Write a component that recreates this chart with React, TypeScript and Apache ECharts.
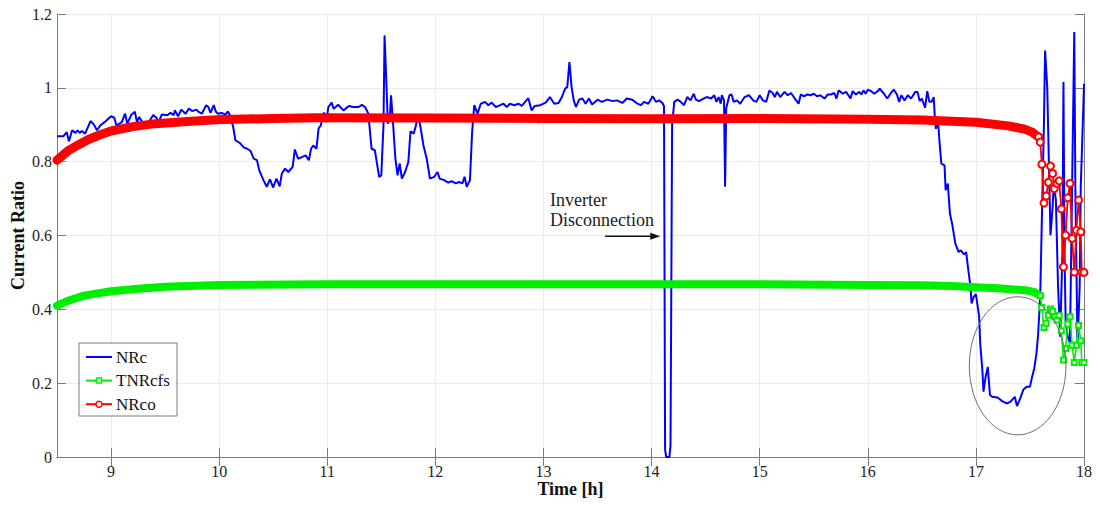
import React, { useEffect, useRef } from "react";
import * as echarts from "echarts";

// NRc: measured current ratio (time in hours, ratio)
const nrcTime = [
  8.5, 8.56, 8.59, 8.61, 8.64, 8.67, 8.69, 8.71, 8.73, 8.76, 8.81, 8.84, 8.87, 8.9, 8.94, 9.0, 9.03, 9.05, 9.1, 9.13,
  9.15, 9.19, 9.22, 9.24, 9.26, 9.29, 9.31, 9.36, 9.39, 9.42, 9.44, 9.47, 9.52, 9.55, 9.58, 9.59, 9.62, 9.65, 9.69, 9.72,
  9.75, 9.79, 9.81, 9.84, 9.88, 9.9, 9.92, 9.95, 9.97, 9.99, 10.02, 10.06, 10.08, 10.1, 10.13, 10.15, 10.19, 10.23, 10.26, 10.29,
  10.32, 10.35, 10.37, 10.41, 10.44, 10.47, 10.5, 10.53, 10.56, 10.58, 10.61, 10.64, 10.68, 10.7, 10.73, 10.77, 10.8, 10.83, 10.85, 10.87,
  10.9, 10.92, 10.94, 10.97, 10.99, 11.01, 11.04, 11.06, 11.1, 11.15, 11.2, 11.24, 11.29, 11.32, 11.35, 11.38, 11.41, 11.44, 11.45, 11.48,
  11.5, 11.52, 11.53, 11.55, 11.56, 11.58, 11.59, 11.61, 11.63, 11.65, 11.67, 11.69, 11.72, 11.75, 11.77, 11.8, 11.82, 11.84, 11.86, 11.89,
  11.92, 11.95, 11.99, 12.02, 12.04, 12.08, 12.12, 12.15, 12.19, 12.22, 12.25, 12.27, 12.29, 12.32, 12.34, 12.36, 12.39, 12.42, 12.46, 12.49,
  12.52, 12.56, 12.6, 12.63, 12.66, 12.69, 12.73, 12.77, 12.8, 12.83, 12.86, 12.89, 12.92, 12.97, 13.02, 13.06, 13.1, 13.14, 13.17, 13.2,
  13.22, 13.24, 13.26, 13.28, 13.3, 13.33, 13.36, 13.39, 13.42, 13.45, 13.5, 13.54, 13.59, 13.64, 13.68, 13.73, 13.77, 13.82, 13.87, 13.9,
  13.93, 13.97, 14.01, 14.04, 14.07, 14.1, 14.115, 14.125, 14.135, 14.165, 14.175, 14.19, 14.21, 14.24, 14.27, 14.3, 14.33, 14.36, 14.39, 14.41,
  14.44, 14.48, 14.51, 14.55, 14.58, 14.6, 14.62, 14.64, 14.65, 14.67, 14.68, 14.69, 14.72, 14.74, 14.76, 14.79, 14.82, 14.86, 14.9, 14.94,
  14.97, 15.0, 15.03, 15.06, 15.09, 15.12, 15.14, 15.16, 15.19, 15.23, 15.26, 15.29, 15.32, 15.36, 15.38, 15.41, 15.44, 15.47, 15.5, 15.53,
  15.56, 15.6, 15.63, 15.66, 15.69, 15.71, 15.73, 15.77, 15.8, 15.84, 15.86, 15.89, 15.92, 15.94, 15.96, 15.98, 16.0, 16.03, 16.06, 16.1,
  16.11, 16.15, 16.18, 16.21, 16.24, 16.27, 16.29, 16.31, 16.34, 16.37, 16.4, 16.44, 16.46, 16.48, 16.5, 16.53, 16.55, 16.57, 16.59, 16.61,
  16.62, 16.63, 16.65, 16.66, 16.68, 16.71, 16.72, 16.74, 16.76, 16.78, 16.81, 16.84, 16.86, 16.89, 16.91, 16.93, 16.95, 16.96, 16.98, 17.0,
  17.03, 17.04, 17.06, 17.07, 17.09, 17.11, 17.13, 17.15, 17.2, 17.25, 17.29, 17.32, 17.36, 17.38, 17.41, 17.44, 17.47, 17.5, 17.52, 17.54,
  17.56, 17.575, 17.595, 17.61, 17.63, 17.64, 17.66, 17.68, 17.69, 17.71, 17.72, 17.74, 17.76, 17.78, 17.8, 17.81, 17.82, 17.83, 17.85, 17.87,
  17.89, 17.91, 17.92, 17.94, 17.96, 17.97, 17.99, 18.0,
];
const nrcValue = [
  0.869, 0.869, 0.88, 0.855, 0.885, 0.878, 0.885, 0.878, 0.883, 0.876, 0.91, 0.901, 0.885, 0.898, 0.907, 0.923, 0.919, 0.898, 0.907, 0.93,
  0.903, 0.928, 0.935, 0.907, 0.921, 0.907, 0.903, 0.912, 0.926, 0.919, 0.907, 0.928, 0.926, 0.932, 0.926, 0.939, 0.923, 0.941, 0.93, 0.944,
  0.937, 0.941, 0.935, 0.93, 0.953, 0.948, 0.932, 0.953, 0.935, 0.93, 0.932, 0.928, 0.936, 0.926, 0.894, 0.858, 0.851, 0.838, 0.835, 0.829,
  0.808, 0.804, 0.777, 0.75, 0.732, 0.752, 0.73, 0.754, 0.733, 0.768, 0.781, 0.772, 0.786, 0.833, 0.808, 0.813, 0.817, 0.804, 0.835, 0.844,
  0.835, 0.89, 0.898, 0.933, 0.907, 0.948, 0.96, 0.943, 0.954, 0.939, 0.951, 0.948, 0.948, 0.954, 0.948, 0.93, 0.835, 0.831, 0.813, 0.759,
  0.763, 0.898, 1.142, 0.989, 0.903, 0.926, 0.98, 0.898, 0.808, 0.763, 0.795, 0.754, 0.772, 0.799, 0.882, 0.876, 0.898, 0.927, 0.898, 0.844,
  0.808, 0.754, 0.759, 0.772, 0.754, 0.75, 0.743, 0.747, 0.741, 0.745, 0.741, 0.759, 0.732, 0.75, 0.88, 0.953, 0.93, 0.957, 0.962, 0.953,
  0.96, 0.948, 0.953, 0.957, 0.948, 0.957, 0.953, 0.957, 0.951, 0.962, 0.972, 0.939, 0.951, 0.953, 0.96, 0.975, 0.957, 0.959, 0.975, 0.998,
  1.002, 1.07, 1.002, 0.966, 0.948, 0.968, 0.971, 0.957, 0.971, 0.955, 0.968, 0.962, 0.968, 0.964, 0.966, 0.959, 0.971, 0.968, 0.957, 0.953,
  0.962, 0.957, 0.977, 0.962, 0.966, 0.959, 0.95, 0.02, 0.0, 0.0, 0.03, 0.9, 0.962, 0.968, 0.962, 0.953, 0.975, 0.966, 0.984, 0.968,
  0.964, 0.971, 0.975, 0.971, 0.98, 0.962, 0.975, 0.957, 0.98, 0.966, 0.732, 0.944, 0.98, 0.982, 0.962, 0.966, 0.957, 0.975, 0.98, 0.966,
  0.962, 0.98, 0.966, 0.962, 0.993, 0.986, 0.975, 0.989, 0.975, 0.989, 0.98, 0.986, 0.973, 0.957, 0.982, 0.977, 0.982, 0.98, 0.984, 0.977,
  0.98, 0.971, 0.982, 0.982, 0.986, 0.971, 0.993, 0.984, 0.989, 0.971, 0.991, 0.982, 0.989, 0.982, 0.993, 0.984, 0.995, 0.991, 0.984, 0.993,
  0.998, 0.984, 0.971, 0.984, 0.995, 0.982, 0.962, 0.98, 0.966, 0.98, 0.971, 0.989, 0.989, 0.964, 0.971, 0.946, 0.991, 0.962, 0.962, 0.975,
  0.921, 0.889, 0.912, 0.867, 0.795, 0.79, 0.723, 0.741, 0.659, 0.632, 0.578, 0.555, 0.56, 0.549, 0.555, 0.506, 0.461, 0.416, 0.434, 0.441,
  0.38, 0.308, 0.235, 0.177, 0.217, 0.244, 0.168, 0.163, 0.161, 0.15, 0.145, 0.15, 0.163, 0.138, 0.159, 0.183, 0.19, 0.19, 0.217, 0.24,
  0.28, 0.33, 0.434, 0.641, 0.912, 1.101, 1.002, 0.732, 0.601, 0.677, 0.741, 0.696, 0.461, 0.326, 0.551, 1.016, 0.551, 0.371, 0.326, 0.308,
  0.732, 1.151, 0.732, 0.299, 0.461, 0.732, 0.912, 1.011,
];

// TNRcfs: smooth daytime trend, then the sampled points at dusk
const tnrTrendTime = [8.5, 8.6, 8.75, 9.0, 9.25, 9.5, 10.0, 11.0, 12.0, 13.0, 14.0, 15.0, 16.0, 16.5, 16.77, 17.0, 17.2, 17.45, 17.54, 17.595];
const tnrTrendValue = [0.41, 0.423, 0.437, 0.449, 0.456, 0.461, 0.466, 0.468, 0.468, 0.468, 0.468, 0.468, 0.466, 0.465, 0.463, 0.46, 0.457, 0.452, 0.447, 0.437];
const tnrTailTime = [17.595, 17.61, 17.63, 17.65, 17.67, 17.69, 17.71, 17.73, 17.75, 17.77, 17.79, 17.81, 17.83, 17.85, 17.87, 17.89, 17.91, 17.93, 17.95, 17.97, 17.98, 18.0];
const tnrTailValue = [0.437, 0.405, 0.351, 0.362, 0.384, 0.401, 0.395, 0.38, 0.371, 0.383, 0.342, 0.263, 0.294, 0.36, 0.38, 0.303, 0.256, 0.303, 0.356, 0.315, 0.256, 0.256];

// NRco: smooth daytime trend, then the sampled points at dusk
const nrcoTrendTime = [8.5, 8.6, 8.7, 8.79, 8.9, 9.0, 9.2, 9.41, 9.7, 10.02, 10.5, 10.89, 12.0, 13.0, 14.0, 15.0, 16.0, 16.5, 17.0, 17.3, 17.45, 17.52, 17.56, 17.58];
const nrcoTrendValue = [0.804, 0.829, 0.846, 0.86, 0.873, 0.883, 0.895, 0.903, 0.909, 0.914, 0.917, 0.919, 0.918, 0.917, 0.916, 0.917, 0.915, 0.913, 0.907, 0.897, 0.888, 0.88, 0.871, 0.867];
const nrcoTailTime = [17.58, 17.595, 17.61, 17.63, 17.65, 17.67, 17.69, 17.71, 17.725, 17.75, 17.77, 17.79, 17.81, 17.83, 17.85, 17.87, 17.89, 17.91, 17.93, 17.95, 17.97, 17.98, 18.0];
const nrcoTailValue = [0.867, 0.853, 0.793, 0.688, 0.707, 0.744, 0.788, 0.768, 0.727, 0.741, 0.748, 0.672, 0.515, 0.601, 0.702, 0.741, 0.592, 0.501, 0.614, 0.696, 0.61, 0.501, 0.5];

// Hour ticks on the time axis
const hourTicks = [9, 10, 11, 12, 13, 14, 15, 16, 17, 18];

const legendNames = ["NRc", "TNRcfs", "NRco"];
const legendColors = ["#0000ff", "#00ee00", "#ff0000"];

const FONT = "'Liberation Serif', 'Times New Roman', serif";
const BLUE = "#0000ff";
const GREEN = "#00ee00";
const RED = "#ff0000";

const zip = (t: number[], v: number[]) => t.map((x, i) => [x, v[i]]);

export default function App() {
  const ref = useRef<HTMLDivElement>(null);

  useEffect(() => {
    if (!ref.current) return;
    const chart = echarts.init(ref.current, undefined, { renderer: "svg" });

    const frameLine = { show: true, lineStyle: { color: "#7a7a7a", width: 1 } };
    const frameTick = { show: true, inside: true, length: 9, lineStyle: { color: "#7a7a7a" } };

    chart.setOption({
      animation: false,
      backgroundColor: "#ffffff",
      grid: { left: 57, right: 16, top: 14, bottom: 49, containLabel: false, outerBoundsMode: "none" },
      xAxis: [
        {
          type: "value",
          min: 8.5,
          max: 18,
          axisLine: frameLine,
          axisTick: { ...frameTick, customValues: hourTicks },
          axisLabel: {
            color: "#222",
            fontFamily: FONT,
            fontSize: 16,
            margin: 6,
            customValues: hourTicks,
          },
          splitLine: { show: true, lineStyle: { color: "#ebebeb", width: 1 } },
          name: "Time [h]",
          nameLocation: "middle",
          nameGap: 23,
          nameMoveOverlap: false,
          nameTextStyle: { fontFamily: FONT, fontSize: 18, fontWeight: "bold", color: "#111", verticalAlign: "top" },
        },
        {
          type: "value",
          position: "top",
          min: 8.5,
          max: 18,
          axisLine: frameLine,
          axisTick: { ...frameTick, customValues: hourTicks },
          axisLabel: { show: false },
          splitLine: { show: false },
        },
      ],
      yAxis: [
        {
          type: "value",
          min: 0,
          max: 1.2,
          interval: 0.2,
          axisLine: frameLine,
          axisTick: frameTick,
          axisLabel: { color: "#222", fontFamily: FONT, fontSize: 16, margin: 5 },
          splitLine: { show: true, lineStyle: { color: "#ebebeb", width: 1 } },
          name: "Current Ratio",
          nameLocation: "middle",
          nameRotate: 90,
          nameGap: 30,
          nameMoveOverlap: false,
          nameTextStyle: { fontFamily: FONT, fontSize: 18, fontWeight: "bold", color: "#111" },
        },
        {
          type: "value",
          position: "right",
          min: 0,
          max: 1.2,
          interval: 0.2,
          axisLine: frameLine,
          axisTick: frameTick,
          axisLabel: { show: false },
          splitLine: { show: false },
        },
      ],
      series: [
        {
          name: "NRc",
          type: "line",
          data: zip(nrcTime, nrcValue),
          symbol: "none",
          lineStyle: { color: BLUE, width: 2 },
          z: 2,
        },
        {
          name: "TNRcfs",
          type: "line",
          data: zip(tnrTrendTime, tnrTrendValue),
          symbol: "none",
          lineStyle: { color: GREEN, width: 8, cap: "round", join: "round" },
          z: 3,
        },
        {
          name: "TNRcfs",
          type: "line",
          data: zip(tnrTailTime, tnrTailValue),
          symbol: "emptyRect",
          symbolSize: 5,
          itemStyle: { color: GREEN, borderColor: GREEN, borderWidth: 1.5 },
          lineStyle: { color: GREEN, width: 1.6 },
          z: 3,
        },
        {
          name: "NRco",
          type: "line",
          data: zip(nrcoTrendTime, nrcoTrendValue),
          symbol: "none",
          lineStyle: { color: RED, width: 9, cap: "round", join: "round" },
          z: 4,
        },
        {
          name: "NRco",
          type: "line",
          data: zip(nrcoTailTime, nrcoTailValue),
          symbol: "emptyCircle",
          symbolSize: 7,
          itemStyle: { color: RED, borderColor: RED, borderWidth: 1.6 },
          lineStyle: { color: RED, width: 1.8 },
          z: 4,
        },
      ],
    });

    // Annotations placed in data coordinates
    const px = (x: number, y: number) => chart.convertToPixel({ gridIndex: 0 }, [x, y]) as number[];
    const c = px(17.386, 0.247);
    const ex = px(17.386 + 0.447, 0.247 + 0.187);
    const textPos = px(13.06, 0.722);
    const arrowStart = px(13.57, 0.598);
    const arrowEnd = px(14.08, 0.598);

    const legendX = 79;
    const legendY = 343;
    const legendItems: any[] = [];
    legendNames.forEach((name, i) => {
      const cy = legendY + 14 + i * 23.6;
      legendItems.push({
        type: "line",
        shape: { x1: legendX + 7, y1: cy, x2: legendX + 33, y2: cy },
        style: { stroke: legendColors[i], lineWidth: 2 },
        z: 31,
      });
      legendItems.push({
        type: "text",
        x: legendX + 37,
        y: cy,
        style: {
          text: name,
          fill: "#111",
          font: `17px ${FONT}`,
          verticalAlign: "middle",
        },
        z: 31,
      });
      if (i === 1) {
        legendItems.push({
          type: "rect",
          shape: { x: legendX + 17.5, y: cy - 2.5, width: 5, height: 5 },
          style: { fill: "#fff", stroke: legendColors[i], lineWidth: 1.5 },
          z: 32,
        });
      }
      if (i === 2) {
        legendItems.push({
          type: "circle",
          shape: { cx: legendX + 20, cy, r: 3 },
          style: { fill: "#fff", stroke: legendColors[i], lineWidth: 1.5 },
          z: 32,
        });
      }
    });

    chart.setOption({
      graphic: [
        {
          type: "ellipse",
          shape: { cx: c[0], cy: c[1], rx: ex[0] - c[0], ry: c[1] - ex[1] },
          style: { fill: "none", stroke: "#6f6f6f", lineWidth: 1 },
          z: 20,
        },
        {
          type: "text",
          x: textPos[0],
          y: textPos[1],
          style: {
            text: "Inverter\nDisconnection",
            fill: "#222",
            font: `18px ${FONT}`,
            lineHeight: 20,
          },
          z: 20,
        },
        {
          type: "line",
          shape: { x1: arrowStart[0], y1: arrowStart[1], x2: arrowEnd[0] - 8, y2: arrowEnd[1] },
          style: { stroke: "#111", lineWidth: 1.5 },
          z: 20,
        },
        {
          type: "polygon",
          shape: {
            points: [
              [arrowEnd[0], arrowEnd[1]],
              [arrowEnd[0] - 10, arrowEnd[1] - 3.5],
              [arrowEnd[0] - 10, arrowEnd[1] + 3.5],
            ],
          },
          style: { fill: "#111" },
          z: 20,
        },
        {
          type: "rect",
          shape: { x: legendX, y: legendY, width: 98, height: 73 },
          style: { fill: "#fff", stroke: "#7a7a7a", lineWidth: 1 },
          z: 30,
        },
        ...legendItems,
      ],
    });

    return () => chart.dispose();
  }, []);

  return (
    <div
      ref={ref}
      style={{ position: "fixed", left: 0, top: 0, width: 1100, height: 506, background: "#fff" }}
    />
  );
}
